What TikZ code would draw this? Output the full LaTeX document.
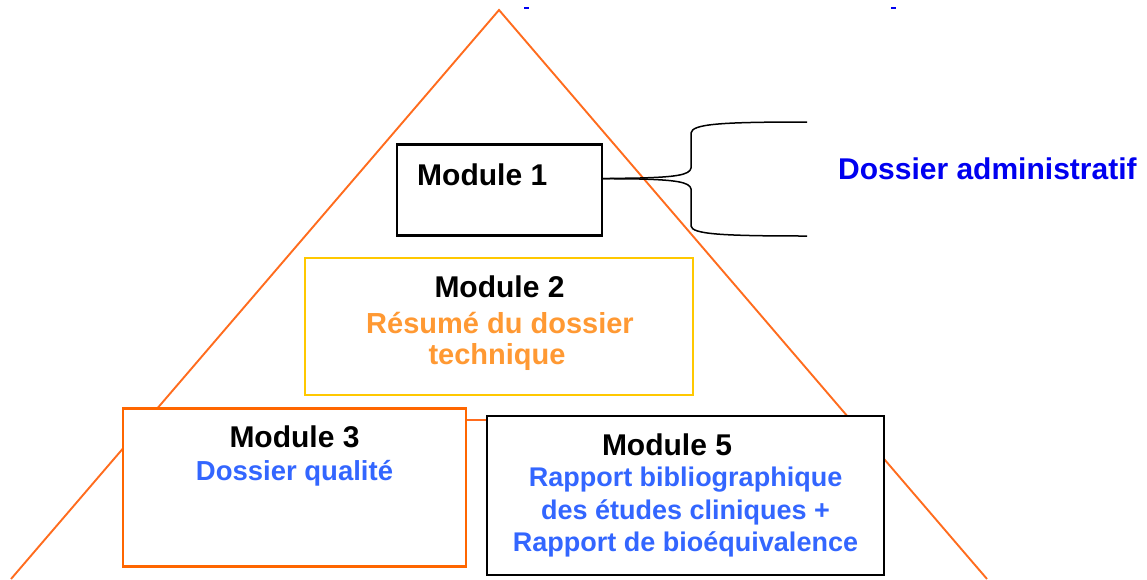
\documentclass[tikz,border=0pt]{standalone}
\usepackage{fontspec}
\setmainfont{Liberation Sans}
\usetikzlibrary{calc}
\definecolor{triorange}{RGB}{255,108,30}
\definecolor{boxorange}{RGB}{255,102,0}
\definecolor{boxyellow}{RGB}{255,200,0}
\definecolor{txtorange}{RGB}{255,153,51}
\definecolor{txtblue}{RGB}{51,102,255}
\definecolor{purblue}{RGB}{0,0,240}
\tikzset{
  modbox/.style={draw, fill=white, line width=2.2pt, inner sep=0pt, outer sep=0pt},
  title/.style={font=\fontsize{30}{34}\selectfont\bfseries, text=black, inner sep=0pt, anchor=base},
  sub/.style={font=\fontsize{27.5}{33}\selectfont\bfseries, inner sep=0pt, anchor=base},
  triline/.style={draw=triorange, line width=1.9pt},
  brace/.style={draw=black, line width=1.5pt}
}
\begin{document}
\begin{tikzpicture}[x=1pt,y=-1pt]
\useasboundingbox (0,0) rectangle (1147,579);
% pyramid
\coordinate (apex) at (499,10);
\coordinate (bl) at (11,579);
\coordinate (br) at (987,579);
\coordinate (hl) at (147,420);
\coordinate (hr) at (851,420);
\draw[triline] (bl) -- (apex) -- (br);
\draw[triline] (hl) -- (hr);
% stray blue marks at top
\coordinate (ba1) at (524,8); \coordinate (ba2) at (529,8);
\coordinate (bb1) at (891,8); \coordinate (bb2) at (896,8);
\draw[purblue, line width=1.5pt] (ba1) -- (ba2);
\draw[purblue, line width=1.5pt] (bb1) -- (bb2);
% boxes
\node[modbox, draw=black, minimum width=205, minimum height=91] (m1) at (499.5,190) {};
\node[modbox, draw=boxyellow, minimum width=388, minimum height=137] (m2) at (499,326.5) {};
\node[modbox, draw=boxorange, minimum width=343, minimum height=158] (m3) at (294.5,487.5) {};
\node[modbox, draw=black, minimum width=397, minimum height=159] (m5) at (685.5,495.5) {};
% brace
\coordinate (tip) at ($(m1.north east)!0.375!(m1.south east)$);
\coordinate (bu) at (807,122);
\coordinate (bd) at (807,236);
\draw[brace] (tip) -- (640,178) .. controls (675,177) and (690,175) .. (691,168)
  -- (691,133) .. controls (692,124) and (720,122) .. (bu);
\draw[brace] (tip) -- (640,179) .. controls (675,180) and (690,182) .. (691,189)
  -- (691,226) .. controls (692,234) and (720,236) .. (bd);
% texts
\node[title, anchor=base west] (t1) at (417,185) {Module 1};
\node[font=\fontsize{30}{34}\selectfont\bfseries, text=purblue, inner sep=0pt, anchor=base west] (da) at (838,179) {Dossier administratif};
\node[title] (t2) at (499.5,297) {Module 2};
\node[sub, text=txtorange, font=\fontsize{29}{33}\selectfont\bfseries] (s2a) at (500,333) {Résumé du dossier};
\node[sub, text=txtorange, font=\fontsize{29}{33}\selectfont\bfseries] (s2b) at (497,364) {technique};
\node[title] (t3) at (294.5,447) {Module 3};
\node[sub, text=txtblue] (s3) at (294.5,480) {Dossier qualité};
\node[title] (t5) at (667,455) {Module 5};
\node[sub, text=txtblue, font=\fontsize{27}{33}\selectfont\bfseries] (s5a) at (685.5,486) {Rapport bibliographique};
\node[sub, text=txtblue, font=\fontsize{27}{33}\selectfont\bfseries] (s5b) at (685.5,519) {des études cliniques +};
\node[sub, text=txtblue, font=\fontsize{27}{33}\selectfont\bfseries] (s5c) at (685.5,551) {Rapport de bioéquivalence};
\end{tikzpicture}
\end{document}
